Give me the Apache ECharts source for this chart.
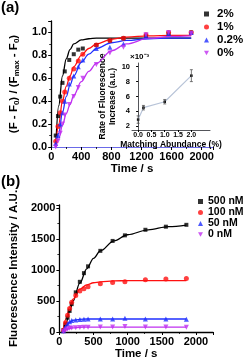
<!DOCTYPE html>
<html><head><meta charset="utf-8">
<script src="https://cdn.jsdelivr.net/npm/echarts@6/dist/echarts.min.js"></script>
<style>html,body{margin:0;padding:0;background:#fff}#c{width:245px;height:363px}</style>
</head><body><div id="c"></div>
<script>
// ---- data ----
const timesA = [60,90,120,150,180,240,300,360,420,600,780,960,1260,1560,1860];
const a2  = [0.10,0.27,0.44,0.56,0.66,0.76,0.81,0.85,0.86,0.89,0.93,0.95,0.97,0.99,1.0];
const a1  = [0.05,0.18,0.30,0.40,0.48,0.60,0.68,0.75,0.81,0.89,0.93,0.95,0.98,1.0,1.0];
const a02 = [0.03,0.10,0.20,0.30,0.40,0.55,0.62,0.70,0.76,0.86,0.87,0.90,0.97,0.99,1.0];
const a0  = [0.0,0.05,0.12,0.20,0.28,0.37,0.44,0.52,0.60,0.72,0.82,0.87,0.98,1.0,0.99];
const fitTA = [60,100,150,200,250,300,400,500,600,800,1000,1300,1600,1860];
const fitA2  = [0,0.36,0.62,0.77,0.85,0.90,0.935,0.945,0.95,0.95,0.95,0.95,0.95,0.95];
const fitA1  = [0,0.20,0.40,0.53,0.62,0.70,0.80,0.86,0.90,0.94,0.96,0.97,0.975,0.975];
const fitA02 = [0,0.12,0.30,0.44,0.54,0.62,0.74,0.81,0.86,0.91,0.93,0.945,0.95,0.95];
const fitA0  = [0,0.07,0.19,0.29,0.37,0.45,0.57,0.66,0.73,0.84,0.90,0.95,0.965,0.97];
const namesA = ['2%','1%','0.2%','0%'];

const timesB = [60,90,120,150,180,240,300,360,420,600,780,960,1260,1560,1860];
const b500 = [30,120,230,340,450,640,810,950,1060,1310,1470,1560,1650,1700,1730];
const b100 = [30,150,270,380,480,590,660,700,730,780,800,810,845,855,865];
const b50  = [20,80,130,165,185,195,200,205,210,210,210,220,210,210,205];
const b0   = [5,30,50,60,65,70,72,75,78,80,82,88,82,80,75];
const fitTB = [50,100,150,200,300,400,500,600,800,1000,1300,1600,1860];
const fitB500 = [0,150,330,500,790,1020,1190,1310,1470,1570,1650,1700,1725];
const fitB100 = [0,220,400,530,690,760,795,810,825,830,830,830,830];
const fitB50  = [0,100,160,190,205,210,210,210,210,210,210,210,210];
const fitB0   = [0,35,58,68,76,79,80,80,80,80,80,80,80];
const namesB = ['500 nM','100 nM','50 nM','0 nM'];

const insetX = [0,0.2,1.0,2.0];
const insetY = [2.9,4.5,5.3,8.8];
const insetErr = [0.5,0.3,0.3,0.8];
const insetXTicks = [0,0.5,1.0,1.5,2.0];
const insetYTicks = [2,4,6,8,10];

// ---- styles ----
const colors = ['#000000','#ff1010','#2030ff','#c030f0'];
const symbols = ['rect','circle','triangle','path://M0,0 L10,0 L5,9 Z'];
const FONT = 'Liberation Sans, Arial, sans-serif';
const zip = (xs, ys) => xs.map((x,i)=>[x, ys[i]]);
const plain = v => String(v);

const axisCommon = {
  axisLine:{show:true,lineStyle:{color:'#000',width:1.3}},
  axisTick:{show:true,inside:false,length:3,lineStyle:{color:'#000',width:1}},
  minorTick:{show:true,length:2,splitNumber:2,lineStyle:{color:'#000',width:0.8}},
  splitLine:{show:false},
  axisLabel:{color:'#000',fontFamily:FONT,fontWeight:'bold',fontSize:11,margin:4},
  nameTextStyle:{color:'#000',fontFamily:FONT,fontWeight:'bold',fontSize:11.5}
};
function ax(extra){ return Object.assign({}, JSON.parse(JSON.stringify(axisCommon)), extra, {
  axisLabel:Object.assign({}, axisCommon.axisLabel, extra.axisLabel||{}),
  axisLine:Object.assign({}, axisCommon.axisLine, extra.axisLine||{}),
  axisTick:Object.assign({}, axisCommon.axisTick, extra.axisTick||{}),
  minorTick:Object.assign({}, axisCommon.minorTick, extra.minorTick||{}),
  nameTextStyle:Object.assign({}, axisCommon.nameTextStyle, extra.nameTextStyle||{})
});}

const series = [];
const seriesA = [a2,a1,a02,a0], fitsA = [fitA2,fitA1,fitA02,fitA0];
seriesA.forEach((d,i)=>{
  series.push({type:'line',name:namesA[i]+' fit',xAxisIndex:0,yAxisIndex:0,data:zip(fitTA,fitsA[i]),
    smooth:0.35,smoothMonotone:'x',showSymbol:false,lineStyle:{color:colors[i],width:1.3},z:2,silent:true});
});
seriesA.forEach((d,i)=>{
  series.push({type:'scatter',name:namesA[i],xAxisIndex:0,yAxisIndex:0,data:zip(timesA,d),
    symbol:symbols[i],symbolSize:i===0?4:5,itemStyle:{color:colors[i]},z:3});
});
const seriesB = [b500,b100,b50,b0], fitsB = [fitB500,fitB100,fitB50,fitB0];
seriesB.forEach((d,i)=>{
  series.push({type:'line',name:namesB[i]+' fit',xAxisIndex:2,yAxisIndex:2,data:zip(fitTB,fitsB[i]),
    smooth:0.35,smoothMonotone:'x',showSymbol:false,lineStyle:{color:colors[i],width:1.3},z:2,silent:true});
});
seriesB.forEach((d,i)=>{
  series.push({type:'scatter',name:namesB[i],xAxisIndex:2,yAxisIndex:2,data:zip(timesB,d),
    symbol:symbols[i],symbolSize:i===0?4:5,itemStyle:{color:colors[i]},z:3});
});
// inset
series.push({type:'line',name:'inset',xAxisIndex:1,yAxisIndex:1,data:zip(insetX,insetY),
  symbol:'rect',symbolSize:2.5,itemStyle:{color:'#000'},lineStyle:{color:'#b8c4d8',width:1.2},z:4});
series.push({type:'custom',name:'err',xAxisIndex:1,yAxisIndex:1,z:5,
  data:insetX.map((x,i)=>[x,insetY[i]-insetErr[i],insetY[i]+insetErr[i]]),
  renderItem:(params,api)=>{
    const lo = api.coord([api.value(0),api.value(1)]);
    const hi = api.coord([api.value(0),api.value(2)]);
    const w = 1.5;
    const st = {stroke:'#555',lineWidth:0.8};
    return {type:'group',children:[
      {type:'line',shape:{x1:lo[0],y1:lo[1],x2:hi[0],y2:hi[1]},style:st},
      {type:'line',shape:{x1:lo[0]-w,y1:lo[1],x2:lo[0]+w,y2:lo[1]},style:st},
      {type:'line',shape:{x1:hi[0]-w,y1:hi[1],x2:hi[0]+w,y2:hi[1]},style:st}
    ]};
  }});

const option = {
  animation:false,
  backgroundColor:'#fff',
  grid:[
    {left:42,top:21,width:171,height:126},
    {left:132,top:63,width:78,height:67,z:5},
    {left:43,top:205,width:170,height:127}
  ],
  xAxis:[
    ax({type:'value',gridIndex:0,min:0,max:2150,interval:400,name:'Time / s',nameLocation:'middle',nameGap:15,
      axisLabel:{showMaxLabel:false,formatter:plain},axisLine:{lineStyle:{color:'#6a6ae8'}}}),
    ax({type:'value',gridIndex:1,min:-0.23,max:2.7,name:'Matching Abundance (%)',nameLocation:'middle',nameGap:10,
      nameTextStyle:{fontSize:8.5},
      axisLabel:{fontSize:7,margin:2,customValues:insetXTicks,formatter:v=>v.toFixed(1)},
      axisTick:{length:2,customValues:insetXTicks},minorTick:{show:false},axisLine:{lineStyle:{width:1}}}),
    ax({type:'value',gridIndex:2,min:0,max:2250,interval:500,name:'Time / s',nameLocation:'middle',nameGap:15,
      axisLabel:{showMaxLabel:false,formatter:plain}})
  ],
  yAxis:[
    ax({type:'value',gridIndex:0,min:0,max:1.1,interval:0.2,
      axisLabel:{showMaxLabel:false,formatter:v=>v.toFixed(1)},
      name:'(F - F{s|0}) / (F{s|max} - F{s|0})',nameLocation:'middle',nameGap:26,
      nameTextStyle:{rich:{s:{fontSize:8,fontWeight:'bold',fontFamily:FONT,color:'#000',padding:[6,0,0,0]}}}}),
    ax({type:'value',gridIndex:1,min:1.5,max:10.5,
      name:'Rate of Fluorescence\nIncrease (a.u.)',nameLocation:'middle',nameGap:8,
      nameTextStyle:{fontSize:8.5,lineHeight:10},
      axisLabel:{fontSize:7.5,margin:2,customValues:insetYTicks},
      axisTick:{length:2,customValues:insetYTicks},minorTick:{show:false},axisLine:{lineStyle:{width:1}}}),
    ax({type:'value',gridIndex:2,min:0,max:2050,interval:500,
      axisLabel:{showMaxLabel:false,formatter:plain},
      name:'Fluorescence Intensity / A.U.',nameLocation:'middle',nameGap:32})
  ],
  legend:[
    {orient:'vertical',left:199,top:3,itemWidth:5,itemHeight:5,itemGap:1,
      data:namesA.map((n,i)=>({name:n,icon:symbols[i]})),
      textStyle:{color:'#000',fontFamily:FONT,fontWeight:'bold',fontSize:11.5,padding:[0,0,0,3]}},
    {orient:'vertical',left:193,top:191,itemWidth:5,itemHeight:5,itemGap:0,
      data:namesB.map((n,i)=>({name:n,icon:symbols[i]})),
      textStyle:{color:'#000',fontFamily:FONT,fontWeight:'bold',fontSize:10.5,width:40,align:'right'}}
  ],
  graphic:[
    {type:'text',left:1,top:0,style:{text:'(a)',font:'bold 15px '+FONT,fill:'#000'}},
    {type:'text',left:1,top:174,style:{text:'(b)',font:'bold 15px '+FONT,fill:'#000'}},
    {type:'text',left:130,top:53,style:{text:'×10⁻³',font:'bold 8px '+FONT,fill:'#000'}}
  ],
  series:series
};
const chart = echarts.init(document.getElementById('c'),null,{renderer:'canvas'});
chart.setOption(option);
</script></body></html>
